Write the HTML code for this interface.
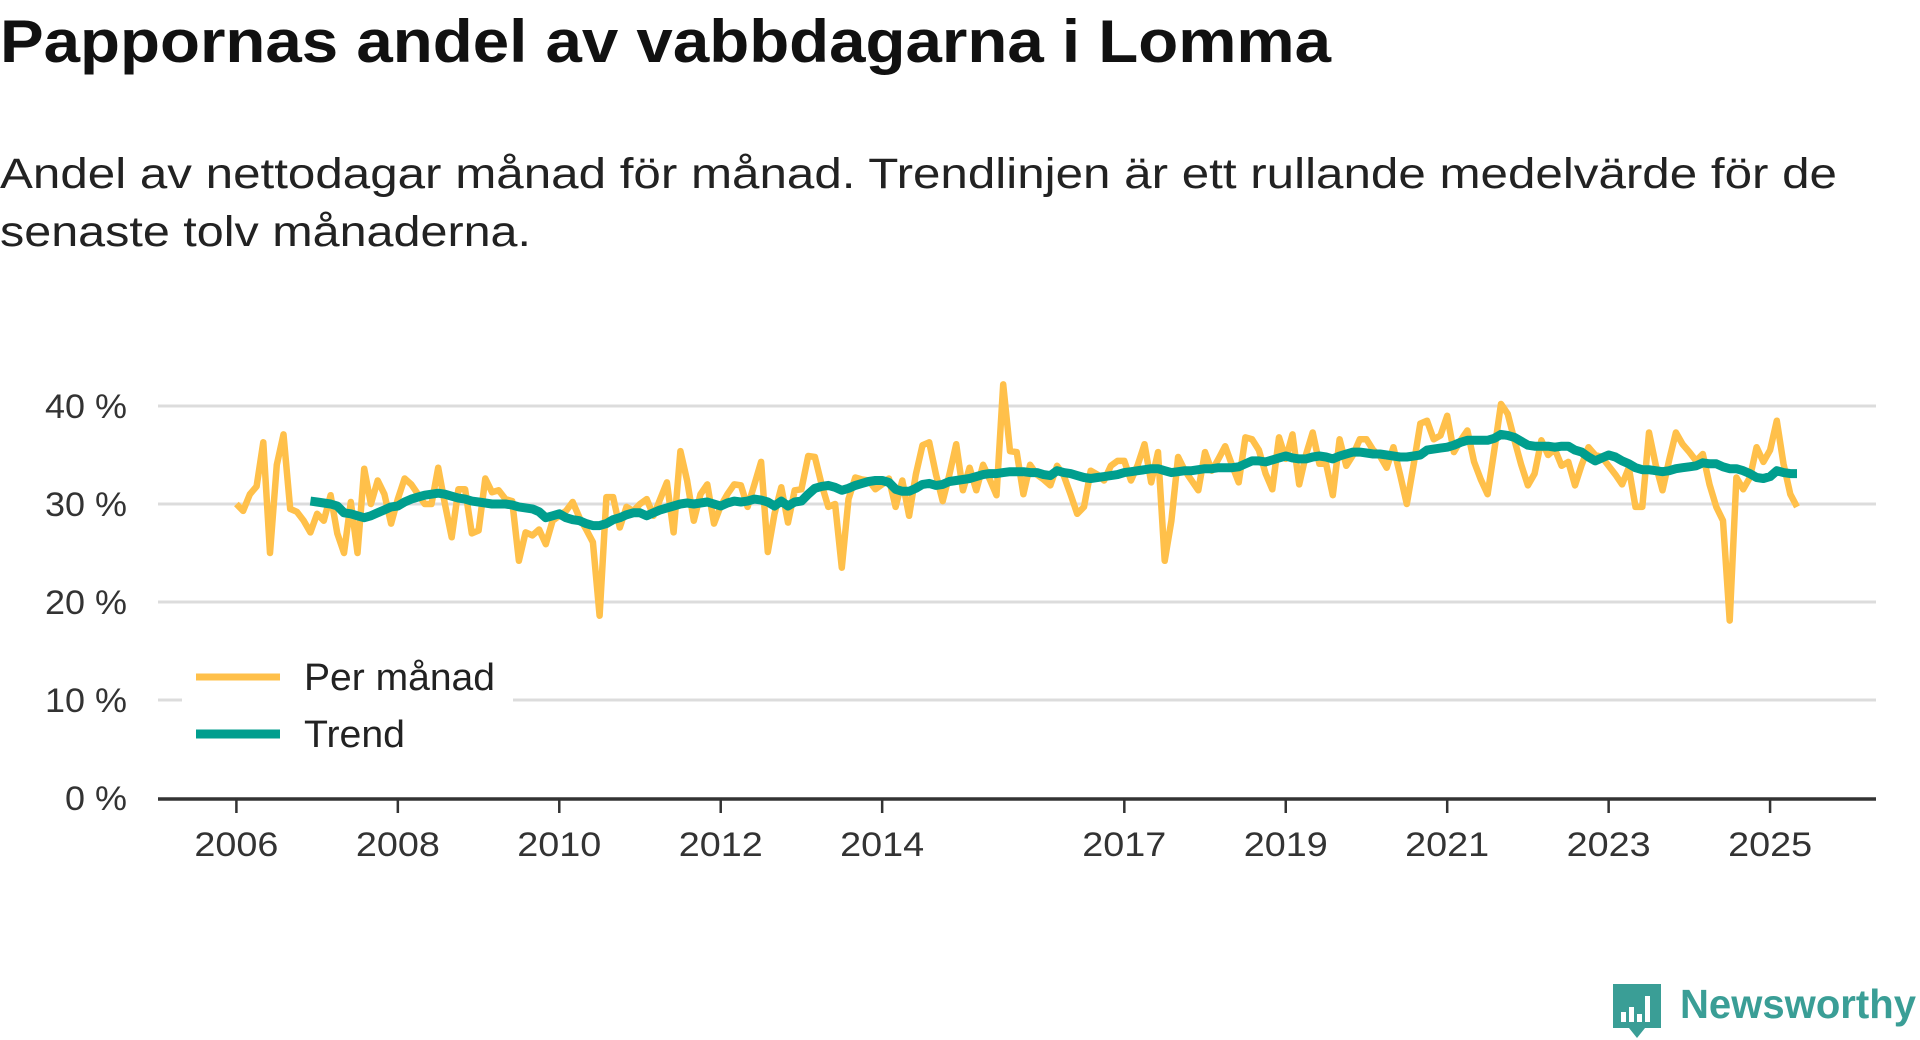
<!DOCTYPE html>
<html><head><meta charset="utf-8"><style>
html,body{margin:0;padding:0;background:#fff;}
svg{display:block;font-family:"Liberation Sans","DejaVu Sans",sans-serif;}
</style></head><body>
<svg id="chart" width="1920" height="1040" viewBox="0 0 1920 1040">
<text x="0" y="62" font-size="60" font-weight="bold" fill="#111" textLength="1331" lengthAdjust="spacingAndGlyphs">Pappornas andel av vabbdagarna i Lomma</text>
<text x="0" y="188" font-size="43" fill="#222" textLength="1837" lengthAdjust="spacingAndGlyphs">Andel av nettodagar månad för månad. Trendlinjen är ett rullande medelvärde för de</text>
<text x="0" y="246" font-size="43" fill="#222" textLength="531" lengthAdjust="spacingAndGlyphs">senaste tolv månaderna.</text>
<g id="grid"></g>
<g id="yaxis"></g>
<g id="xaxis"></g>
<g id="series"></g>
<g>
<rect x="182" y="695" width="331" height="10" fill="#fff"/>
<line x1="196" y1="677" x2="280" y2="677" stroke="#FFC04A" stroke-width="7"/>
<text x="304" y="690" font-size="38" fill="#222" textLength="191" lengthAdjust="spacingAndGlyphs">Per månad</text>
<line x1="196" y1="734" x2="280" y2="734" stroke="#009E8E" stroke-width="9"/>
<text x="304" y="747" font-size="38" fill="#222" textLength="101" lengthAdjust="spacingAndGlyphs">Trend</text>
</g>
<g>
<path d="M1613 984 h48 v44 h-16 l-8 10 l-8 -10 h-16 z" fill="#3a9e96"/>
<rect x="1621" y="1012" width="5" height="10" fill="#fff"/><rect x="1629" y="1007" width="5" height="15" fill="#fff"/><rect x="1637" y="1014" width="5" height="8" fill="#fff"/><rect x="1645" y="996" width="5" height="26" fill="#fff"/>
<text x="1680" y="1018" font-size="41" font-weight="bold" fill="#3a9e96" textLength="236" lengthAdjust="spacingAndGlyphs">Newsworthy</text>
</g>
</svg>
<script>
const yTicks = [0, 10, 20, 30, 40];
const yTickLabels = ["0 %", "10 %", "20 %", "30 %", "40 %"];
const xTickYears = [2006, 2008, 2010, 2012, 2014, 2017, 2019, 2021, 2023, 2025];
const startYear = 2006;
const trendStartIndex = 11;
const perManad = [
30,29.3,31,31.8,36.3,25,34,37.1,29.5,29.2,28.3,27.1,
29,28.3,30.9,27,25,30.2,25,33.6,30,32.4,31,28,
30.5,32.6,32,31,30,30,33.7,30,26.6,31.5,31.5,27,
27.3,32.6,31.2,31.4,30.5,30.3,24.2,27.1,26.8,27.4,25.9,28.3,
28.8,29.3,30.2,28.6,27.4,26.1,18.6,30.7,30.7,27.6,29.7,29.3,
30,30.5,28.8,30.5,32.2,27.1,35.4,32.4,28.3,31,32,28,
29.8,31,32,31.9,29.7,32,34.3,25.1,29,31.7,28.1,31.4,
31.5,34.9,34.8,32,29.7,30,23.5,30.5,32.7,32.5,32.4,31.5,
32,32.6,29.7,32.4,28.8,33,36,36.3,33,30.3,33,36.1,
31.4,33.7,31.4,34,32.5,30.9,42.2,35.4,35.3,31,34,33,
32.5,31.9,33.9,32.9,31,29,29.7,33.4,33,32.4,33.9,34.4,
34.4,32.4,34,36.1,32.2,35.3,24.2,28.3,34.8,33.4,32.4,31.4,
35.3,33.4,34.6,35.9,34,32.2,36.8,36.6,35.5,33.1,31.5,36.8,
34.6,37.1,32,35,37.3,34.1,34.1,30.9,36.6,33.9,35,36.6,
36.6,35.5,34.9,33.7,35.8,33,30,34,38.2,38.5,36.6,37,
39,35.3,36.5,37.5,34.3,32.5,31,35.5,40.2,39.2,36.5,34,
31.9,33.1,36.5,35,35.6,33.9,34.3,31.9,34,35.8,35,34.8,
33.9,33,32,33.7,29.7,29.7,37.3,34,31.4,34.5,37.3,36.1,
35.3,34.4,35.1,32,29.7,28.3,18.1,32.7,31.5,32.7,35.8,34.3,
35.5,38.5,34.1,31,29.7
];
const trend = [
30.3,
30.2,30.1,30,29.8,29.1,29,28.8,28.6,28.8,29.1,29.4,29.7,
29.8,30.2,30.5,30.7,30.9,31,31.1,31,30.8,30.6,30.5,30.3,
30.2,30.1,30,30,30,29.9,29.7,29.6,29.5,29.2,28.6,28.8,
29,28.6,28.4,28.3,28,27.8,27.8,28,28.4,28.6,28.9,29.1,
29.1,28.8,29.1,29.4,29.6,29.8,30,30.1,30,30.1,30.2,30,
29.8,30.1,30.3,30.2,30.3,30.5,30.4,30.2,29.8,30.3,29.8,30.2,
30.3,31,31.6,31.8,31.9,31.7,31.4,31.6,31.9,32.1,32.3,32.4,
32.4,32.2,31.5,31.3,31.3,31.6,32,32.1,31.9,32,32.3,32.4,
32.5,32.6,32.8,33,33.1,33.1,33.2,33.3,33.3,33.3,33.2,33.2,
33,32.9,33.4,33.2,33.1,32.9,32.7,32.6,32.7,32.8,32.9,33,
33.2,33.3,33.4,33.5,33.6,33.6,33.4,33.2,33.3,33.4,33.4,33.5,
33.6,33.6,33.7,33.7,33.7,33.8,34.1,34.4,34.4,34.3,34.5,34.7,
34.9,34.7,34.6,34.6,34.8,34.9,34.8,34.6,34.9,35.1,35.3,35.3,
35.2,35.1,35.1,35,34.9,34.8,34.8,34.9,35,35.5,35.6,35.7,
35.8,36,36.3,36.5,36.5,36.5,36.5,36.7,37.1,37,36.8,36.4,
36,35.9,35.9,35.9,35.8,35.9,35.9,35.5,35.3,34.8,34.4,34.7,
35,34.8,34.4,34.1,33.7,33.5,33.5,33.4,33.3,33.4,33.6,33.7,
33.8,33.9,34.2,34.1,34.1,33.8,33.6,33.6,33.4,33.1,32.7,32.6,
32.8,33.4,33.2,33.1,33.1
];
const NS = "http://www.w3.org/2000/svg";
const plotL = 158, plotR = 1876, y0 = 798, pxPerUnit = 9.8;
const x2006 = 236.4, pxPerYear = 80.72;
function xScale(monthIndex){ return x2006 + (monthIndex/12) * pxPerYear; }
function xYear(yr){ return x2006 + (yr - startYear) * pxPerYear; }
function yScale(v){ return y0 - v * pxPerUnit; }
function mk(tag, attrs, parent){ const e=document.createElementNS(NS,tag); for(const k in attrs) e.setAttribute(k,attrs[k]); parent.appendChild(e); return e; }
const grid=document.getElementById('grid'), yax=document.getElementById('yaxis'), xax=document.getElementById('xaxis'), ser=document.getElementById('series');
yTicks.forEach((t,i)=>{
  if(t>0){
    const g=mk('line',{x1:plotL,x2:plotR,y1:yScale(t),y2:yScale(t),stroke:'#dcdcdc','stroke-width':3},grid);
    
    
  }
  const lab=yTickLabels[i];
  const tx=mk('text',{x:127,y:yScale(t)+12,'text-anchor':'end','font-size':34,fill:'#333',textLength:(lab.length===3?62:82),lengthAdjust:'spacingAndGlyphs'},yax);
  tx.textContent=lab;
  
  
});
const ax=mk('line',{x1:plotL,x2:plotR,y1:y0+1,y2:y0+1,stroke:'#333','stroke-width':3.5},xax);


xTickYears.forEach(yr=>{
  const x=xYear(yr);
  const tk=mk('line',{x1:x,x2:x,y1:y0,y2:y0+15,stroke:'#333','stroke-width':2.5},xax);
  
  
  const tl=mk('text',{x:x,y:856,'text-anchor':'middle','font-size':34,fill:'#333',textLength:84,lengthAdjust:'spacingAndGlyphs'},xax);
  tl.textContent=String(yr);
  
  
});
const pm=mk('polyline',{points:perManad.map((v,i)=>xScale(i).toFixed(1)+','+yScale(v).toFixed(1)).join(' '),fill:'none',stroke:'#FFC04A','stroke-width':6.5,'stroke-linejoin':'round'},ser);


const tr=mk('polyline',{points:trend.map((v,i)=>xScale(i+trendStartIndex).toFixed(1)+','+yScale(v).toFixed(1)).join(' '),fill:'none',stroke:'#009E8E','stroke-width':9,'stroke-linejoin':'round'},ser);


</script>
</body></html>
